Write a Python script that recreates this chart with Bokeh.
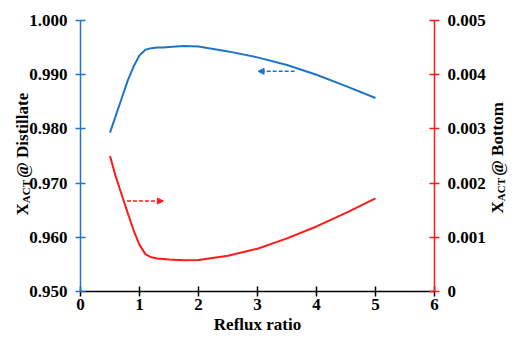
import math
from bokeh.plotting import figure
from bokeh.models import (LinearAxis, Range1d, FixedTicker, PrintfTickFormatter,
                          Label, Arrow, NormalHead)
from bokeh.embed import file_html
from bokeh.resources import INLINE

# ---- data ----
reflux = [0.5, 0.6, 0.7, 0.8, 0.9, 1.0, 1.1, 1.2, 1.3, 1.4, 1.5, 1.75, 2.0,
          2.5, 3.0, 3.5, 4.0, 4.5, 5.0]
x_distillate = [0.9793, 0.9825, 0.9857, 0.9889, 0.9915, 0.9936, 0.9946, 0.9949,
                0.9950, 0.9950, 0.9951, 0.9953, 0.9952, 0.9943, 0.9932, 0.9918,
                0.9900, 0.9879, 0.9857]
x_bottom = [0.00250, 0.00211, 0.00178, 0.00145, 0.00113, 0.00086, 0.00069,
            0.00063, 0.00061, 0.00060, 0.00059, 0.000575, 0.00058, 0.00066,
            0.00079, 0.00098, 0.00120, 0.00145, 0.00172]
x_ticks = [0, 1, 2, 3, 4, 5, 6]
left_ticks = [0.95, 0.96, 0.97, 0.98, 0.99, 1.00]
right_ticks = [0, 0.001, 0.002, 0.003, 0.004, 0.005]
blue_arrow = dict(x0=3.63, x1=3.01, y=0.99062)
red_arrow = dict(x0=0.787, x1=1.405, y=0.00167)

BLUE = "#1C75C8"
RED = "#FF1A1A"
FONT = "'Liberation Serif', 'Times New Roman', 'DejaVu Serif', serif"

# ---- layout (pixels inside the figure) ----
W, H = 509, 338
X0_PX, X6_PX = 80, 434      # where x=0 and x=6 sit
YT_PX, YB_PX = 20, 291      # where the top and bottom of the y axes sit
pxx = (X6_PX - X0_PX) / 6.0
pyl = (YB_PX - YT_PX) / 0.05
pyr = (YB_PX - YT_PX) / 0.005

p = figure(width=W, height=H, output_backend="svg", toolbar_location=None,
           x_range=Range1d(-X0_PX / pxx, 6 + (W - X6_PX) / pxx),
           y_range=Range1d(0.95 - (H - YB_PX) / pyl, 1.0 + YT_PX / pyl),
           x_axis_location=None, y_axis_location=None, min_border=0)
p.extra_y_ranges = {"right": Range1d(0 - (H - YB_PX) / pyr, 0.005 + YT_PX / pyr)}
p.outline_line_color = None
p.grid.visible = False
p.background_fill_color = "white"
p.border_fill_color = "white"

def style(ax, color):
    ax.axis_line_color = color
    ax.axis_line_width = 1.5
    ax.major_tick_line_color = color
    ax.major_tick_line_width = 1.5
    ax.major_tick_in = 5
    ax.major_tick_out = 5
    ax.minor_tick_line_color = None
    ax.major_label_text_font = FONT
    ax.major_label_text_font_style = "bold"
    ax.major_label_text_font_size = "17px"
    ax.major_label_text_color = "black"
    ax.axis_label_text_font = FONT
    ax.axis_label_text_font_style = "bold"
    ax.axis_label_text_font_size = "17px"
    ax.axis_label_text_color = "black"

xa = LinearAxis(fixed_location=0.95, bounds=(0, 6))
style(xa, "black")
xa.ticker = FixedTicker(ticks=x_ticks)
xa.axis_label = "Reflux ratio"
xa.major_label_standoff = 2
xa.axis_label_standoff = 2
p.add_layout(xa, "below")

ya = LinearAxis(fixed_location=0, bounds=(0.95, 1.0))
style(ya, BLUE)
ya.ticker = FixedTicker(ticks=left_ticks)
ya.formatter = PrintfTickFormatter(format="%.3f")
ya.major_label_standoff = 8
p.add_layout(ya, "left")

ra = LinearAxis(y_range_name="right", fixed_location=6, bounds=(0, 0.005))
style(ra, RED)
ra.ticker = FixedTicker(ticks=right_ticks)
ra.formatter = PrintfTickFormatter(format="%.3f")
ra.major_label_overrides = {0: "0"}
ra.major_label_standoff = 8
p.add_layout(ra, "right")

p.line(reflux, x_distillate, line_color=BLUE, line_width=2)
p.line(reflux, x_bottom, line_color=RED, line_width=2, y_range_name="right")

p.add_layout(Arrow(end=NormalHead(size=6, fill_color=BLUE, line_color=BLUE),
                   x_start=blue_arrow["x0"], x_end=blue_arrow["x1"],
                   y_start=blue_arrow["y"], y_end=blue_arrow["y"],
                   line_color=BLUE, line_width=1.5, line_dash="4 2"))
p.add_layout(Arrow(end=NormalHead(size=6, fill_color=RED, line_color=RED),
                   x_start=red_arrow["x0"], x_end=red_arrow["x1"],
                   y_start=red_arrow["y"], y_end=red_arrow["y"],
                   line_color=RED, line_width=1.5, line_dash="4 2",
                   y_range_name="right"))

# Times/Liberation Serif bold advance widths (em) used to chain the pieces
EM = {"X": 0.722, "ACT": 2.111, "@ Distillate": 0.93 + 0.25 + 4.611,
      "@ Bottom": 0.93 + 0.25 + 3.166}
BIG, SUB, GAP = 17, 11, 2

def vlabel(parts, sx, sy):
    # parts: (text, size, baseline shift); chained from bottom upwards
    y = sy
    for text, size, shift in parts:
        w = EM[text] * size
        p.add_layout(Label(x=sx + shift, y=y, x_units="screen", y_units="screen",
                           text=text, angle=math.pi / 2, text_font=FONT,
                           text_font_style="bold", text_font_size=f"{size}px",
                           text_color="black", text_align="left",
                           text_baseline="alphabetic"))
        y += w + (GAP if text == "ACT" else 0)

vlabel([("X", BIG, 0), ("ACT", SUB, 3), ("@ Distillate", BIG, 0)], 22, 123)
vlabel([("X", BIG, 0), ("ACT", SUB, 3), ("@ Bottom", BIG, 0)], 497, 125)

open("out.html", "w").write(file_html(p, INLINE))
